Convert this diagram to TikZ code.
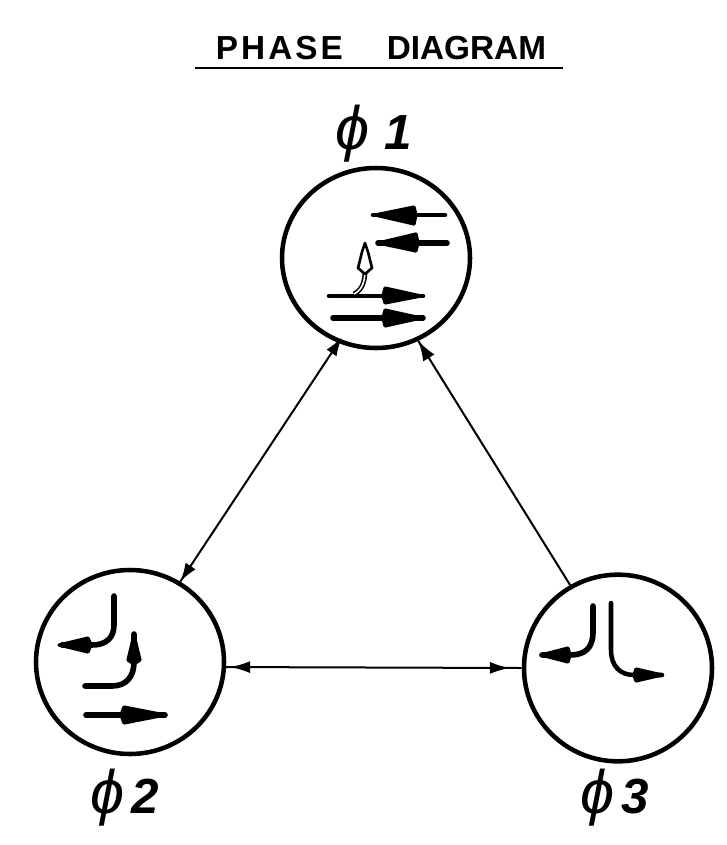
\documentclass[tikz,border=0pt]{standalone}
\usepackage{fontspec}
\setmainfont{Liberation Sans}
\usetikzlibrary{shapes.geometric,arrows.meta,decorations.markings}
\tikzset{
  x=0.75pt,y=-0.75pt,
  phase/.style={ellipse,draw,line width=3.4pt,inner sep=0pt},
  link/.style={line width=1.5pt},
  flow/.style={line width=4.2pt,line cap=round,line join=round},
  thinflow/.style={line width=3.4pt,line cap=round,line join=round},
  head/.style={fill=black,draw=black,line width=2.4pt,line join=round},
  label/.style={inner sep=0pt,font=\fontsize{46}{46}\selectfont\itshape},
  title/.style={inner sep=0pt,font=\fontsize{25}{25}\selectfont\bfseries}
}
\newcommand{\digitsz}{\fontsize{37}{37}\selectfont\itshape\bfseries}
\begin{document}
\begin{tikzpicture}
\useasboundingbox (0,0) rectangle (727,845);
\fill[white] (0,0) rectangle (727,845);
% title
\node[title,anchor=base] (t) at (381,60) {{\addfontfeatures{LetterSpace=9}PHASE}\hspace{33pt}DIAGRAM};
\coordinate (ul) at (195,68);
\coordinate (ur) at (563,68);
\draw[line width=2.2pt] (ul) -- (ur);
% phases
\node[phase,minimum width=141pt,minimum height=135pt] (p1) at (376,258) {};
\node[phase,minimum width=141pt,minimum height=138pt] (p2) at (130,662) {};
\node[phase,minimum width=141pt,minimum height=140pt] (p3) at (618,668) {};
% labels
\node[label,anchor=base] (l1) at (374,150) {ϕ\hspace{11pt}{\digitsz 1}};
\node[label,anchor=base] (l2) at (125,813) {ϕ\hspace{5pt}{\digitsz 2}};
\node[label,anchor=base] (l3) at (615,813) {ϕ\hspace{5pt}{\digitsz 3}};
% links
\draw[link,postaction={decorate,decoration={markings,
   mark=at position 9pt with {\arrow{Latex[length=14pt,width=9pt,reversed]}},
   mark=at position 1 with {\arrow{Latex[length=14pt,width=9pt]}}}}]
   (p1.-114) -- (p2.58);
\draw[link,postaction={decorate,decoration={markings,
   mark=at position 1 with {\arrow{Latex[length=15pt,width=10pt]}}}}]
   (p3.120) -- (p1.-63);
\draw[link,postaction={decorate,decoration={markings,
   mark=at position 18pt with {\arrow{Latex[length=15pt,width=9pt,reversed]}},
   mark=at position 0.96 with {\arrow{Latex[length=15pt,width=9pt]}}}}]
   (p2.-3) -- (p3.180);
% phase 1 contents
\draw[thinflow] (445,215) -- (373,215);
\fill[head] (375,215) -- (414,207) -- (416,215) -- (414,224) -- cycle;
\draw[flow] (447,243) -- (378,243);
\fill[head] (378,243) -- (416,234) -- (418,243) -- (416,251) -- cycle;
\draw[thinflow] (329,296) -- (423,296);
\fill[head] (421,296) -- (385,288) -- (383,296) -- (385,303) -- cycle;
\draw[flow] (333,318) -- (423,318);
\fill[head] (421,318) -- (385,310) -- (383,318) -- (385,326) -- cycle;
\draw[line width=3.6pt] (354,294) .. controls (362,290) and (365,282) .. (365,270);
\draw[white,line width=1.2pt] (354,294) .. controls (362,290) and (365,282) .. (365,270);
\draw[line width=2pt,fill=white,line join=round] (365,243) -- (362,252) -- (358,268) -- (365,274) -- (372,268) -- (368,252) -- cycle;
% phase 2 contents
\draw[flow] (114,596) -- (114,625) .. controls (114,638) and (106,645) .. (92,645) -- (62,645);
\fill[head] (59,645) -- (88,638) -- (91,645) -- (88,652) -- cycle;
\draw[flow] (85,686) -- (112,686) .. controls (126,686) and (134,677) .. (134,662) -- (134,634);
\fill[head] (134,635) -- (128,660) -- (134,664) -- (140,660) -- cycle;
\draw[flow] (86,715) -- (165,715);
\fill[head] (165,715) -- (124,707) -- (121,715) -- (124,723) -- cycle;
% phase 3 contents
\draw[flow] (593,606) -- (593,632) .. controls (593,648) and (585,655) .. (570,655) -- (542,655);
\fill[head] (541,655) -- (568,648) -- (570,655) -- (568,662) -- cycle;
\draw[thinflow] (611,603) -- (611,650) .. controls (611,666) and (620,675) .. (634,675) -- (662,675);
\fill[head] (662,675) -- (636,669) -- (634,675) -- (636,681) -- cycle;
\end{tikzpicture}
\end{document}
